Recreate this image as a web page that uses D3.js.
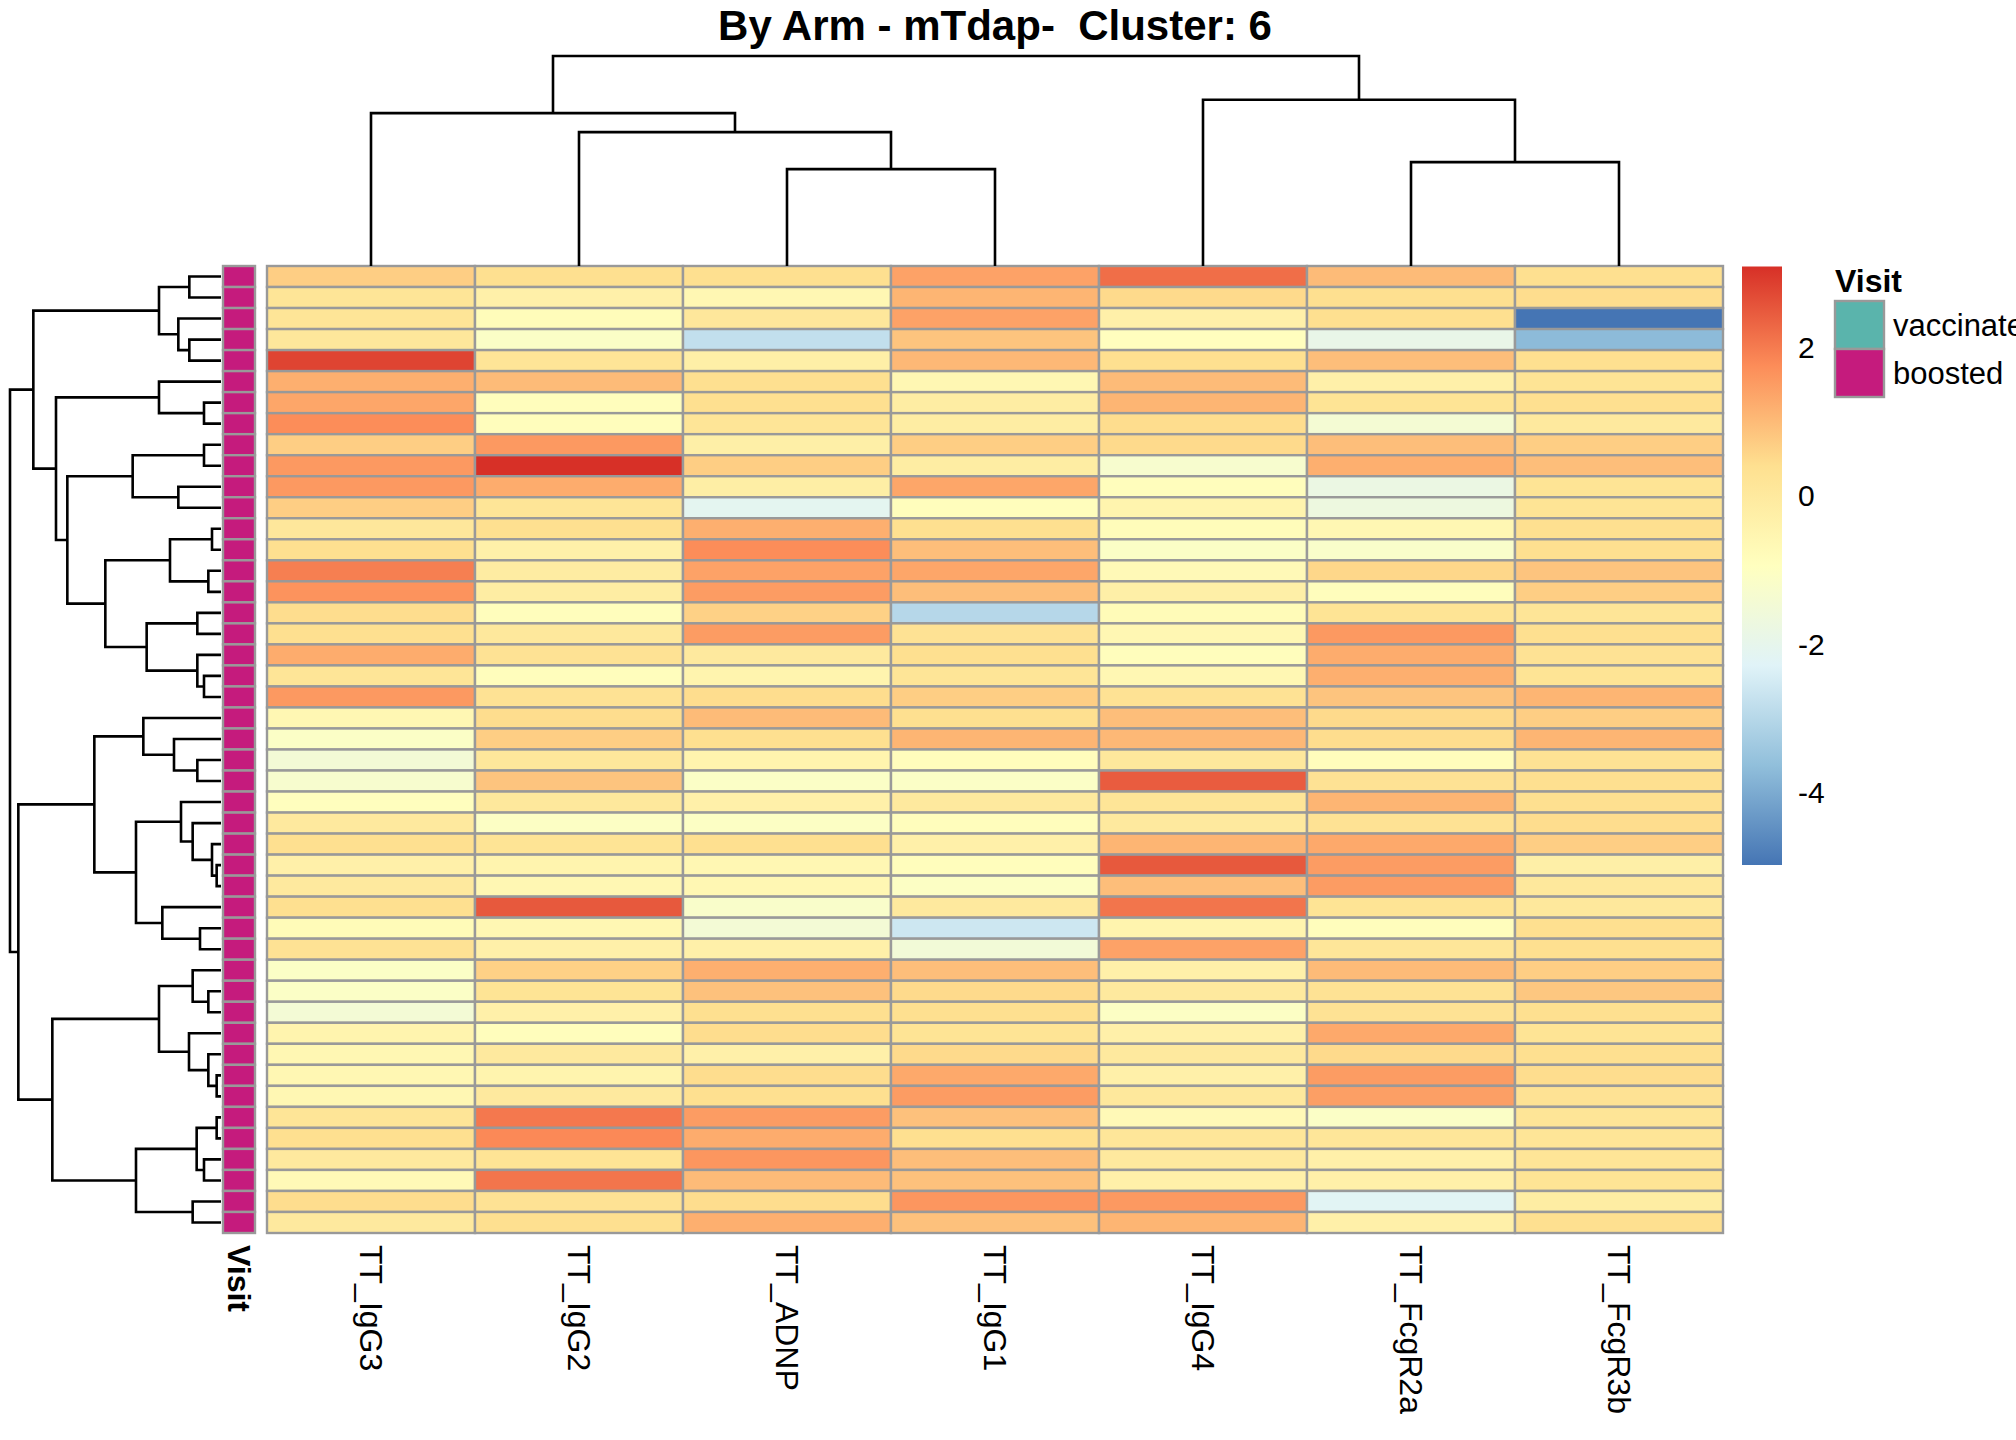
<!DOCTYPE html>
<html><head><meta charset="utf-8">
<script src="https://cdn.jsdelivr.net/npm/d3@7"></script>
<style>
body{margin:0;background:#fff}
text{font-family:Arial,"Liberation Sans",sans-serif;fill:#000}
</style>
</head><body>
<svg id="chart" width="2016" height="1440"></svg>
<script>
// ---------- data ----------
const chartTitle = "By Arm - mTdap-  Cluster: 6";
const features = ["TT_IgG3","TT_IgG2","TT_ADNP","TT_IgG1","TT_IgG4","TT_FcgR2a","TT_FcgR3b"];

const igg3   = [0.7,0.2,0.2,0.1,2.8,1.2,1.35,1.75,0.7,1.55,1.55,0.7,0.1,0.4,1.95,1.65,0.45,0.4,1.25,0.2,1.55,-0.6,-1.1,-1.45,-1.3,-0.9,0.0,0.4,-0.3,0.0,0.4,-0.75,0.3,-1.1,-1.1,-1.45,-0.45,-0.6,-0.6,-0.6,0.2,0.4,0.0,-0.7,0.45,0.0];
const igg2   = [0.4,-0.3,-0.8,-1.1,0.2,1.0,-0.85,-0.85,1.55,3.09,1.25,0.2,0.4,-0.3,-0.1,-0.15,-0.85,0.05,0.3,-0.85,0.3,0.45,0.7,0.1,0.85,0.05,-1.05,0.25,-0.45,-0.6,2.5,-0.6,-0.3,0.65,0.25,-0.3,-0.85,0.0,-0.45,0.0,2.05,1.8,0.25,2.1,0.3,0.4];
const adnp   = [0.4,-0.6,0.1,-2.8,-0.25,0.4,0.4,0.2,-0.25,0.7,-0.2,-2.1,1.2,1.75,1.4,1.5,0.65,1.5,0.0,-0.45,0.45,1.0,0.4,-0.45,-1.1,-0.3,-1.05,0.4,-0.6,-0.6,-1.2,-1.45,-0.3,1.2,0.9,0.4,0.45,-0.3,0.45,0.4,1.5,1.25,1.6,1.0,0.45,1.2];
const igg1   = [1.4,1.1,1.4,0.85,1.05,-0.6,-0.15,-0.15,0.7,-0.15,1.35,-0.85,0.4,0.95,1.35,0.95,-3.0,0.3,0.4,0.2,0.7,0.4,1.1,-0.85,-1.1,0.0,-0.85,-0.3,-0.85,-1.05,0.0,-2.6,-1.5,0.95,0.5,0.4,0.25,0.5,1.3,1.5,0.9,0.4,0.95,0.9,1.6,0.9];
const igg4   = [2.2,0.5,-0.3,-0.9,0.4,1.0,1.1,0.45,0.5,-1.3,-0.85,-0.45,-0.8,-1.1,-0.7,-0.25,-0.75,-0.6,-0.85,-0.6,0.3,0.95,1.05,0.05,2.45,0.2,0.0,1.1,2.5,0.95,2.1,-0.45,1.4,-0.3,0.0,-1.05,-0.3,0.0,-0.3,0.05,-0.7,0.15,0.0,-0.3,1.55,1.1];
const fcgr2a = [1.0,0.4,0.4,-1.9,0.95,-0.3,0.25,-1.4,0.95,1.2,-1.8,-1.7,-0.6,-1.2,0.55,-0.85,0.25,1.55,1.25,1.2,0.85,0.5,0.45,-0.85,0.3,1.1,0.3,1.3,1.5,1.5,0.25,-0.85,0.15,1.0,0.3,0.3,1.3,0.5,1.5,1.45,-1.1,0.15,-0.3,-0.3,-2.2,-0.3];
const fcgr3b = [0.4,0.45,-4.97,-3.7,0.4,0.25,0.4,0.0,0.7,0.95,0.25,0.25,0.4,0.4,0.85,0.7,0.2,0.4,0.3,0.25,1.1,0.7,1.1,0.3,0.4,0.4,0.45,0.7,-0.25,0.05,0.05,0.4,0.4,0.7,0.8,0.4,0.25,0.4,0.45,0.3,0.2,0.2,0.2,0.25,-0.15,0.4];

const rowVisit = ["boosted","boosted","boosted","boosted","boosted","boosted","boosted","boosted","boosted","boosted",
  "boosted","boosted","boosted","boosted","boosted","boosted","boosted","boosted","boosted","boosted",
  "boosted","boosted","boosted","boosted","boosted","boosted","boosted","boosted","boosted","boosted",
  "boosted","boosted","boosted","boosted","boosted","boosted","boosted","boosted","boosted","boosted",
  "boosted","boosted","boosted","boosted","boosted","boosted"];
const visitLevels = ["vaccinated","boosted"];
const visitColors = ["#5AB4AC","#C51B7D"];
const colorTicks = [-4,-2,0,2];
const palette = ["#4575B4","#91BFDB","#E0F3F8","#FFFFBF","#FEE090","#FC8D59","#D73027"];

// hclust-style merges: negative = leaf (-(index+1)), positive = earlier merge step (1-based); third = height
const rowMerge = [
  [-1,-2,95],[-4,-5,95],[-3,2,128],[1,3,186],[-7,-8,51],[-6,5,186],[-9,-10,51],[-11,-12,128],[7,8,265],
  [-13,-14,27],[-15,-16,38],[10,11,153],[-17,-18,71],[-20,-21,51],[-19,14,71],[13,15,223],[12,16,347],
  [9,17,461],[6,18,495],[4,19,563],[-24,-25,71],[-23,21,141],[-22,22,233],[-29,-30,13],[-28,24,27],
  [-27,25,85],[-26,26,120],[-32,-33,63],[-31,28,176],[27,29,255],[23,30,380],[-35,-36,38],[-34,32,85],
  [-39,-40,13],[-38,34,38],[-37,35,96],[33,36,186],[-41,-42,13],[-43,-44,51],[38,39,73],[-45,-46,85],
  [40,41,255],[37,42,506],[31,43,608],[20,44,633]
];
const colMerge = [[-3,-4,96.7],[-2,1,133.7],[-1,2,152.7],[-6,-7,103.7],[-5,4,166],[3,5,209.7]];

// ---------- drawing ----------
const svg = d3.select("#chart");
svg.append("rect").attr("width",2016).attr("height",1440).attr("fill","#fff");

const series = [igg3, igg2, adnp, igg1, igg4, fcgr2a, fcgr3b];
const nRows = igg3.length;
const x = d3.scaleBand().domain(features).range([267, 1723]);
const y = d3.scaleBand().domain(d3.range(nRows)).range([266, 1233]);
const [vmin, vmax] = d3.extent(series.flat());
const color = d3.scaleLinear()
  .domain(palette.map((_, i) => vmin + (vmax - vmin) * i / (palette.length - 1)))
  .range(palette).interpolate(d3.interpolateRgb);

const borderCol = "#999999", borderW = 2.4;

// heatmap cells
const cells = [];
features.forEach((f, fi) => series[fi].forEach((v, ri) => cells.push({f, ri, v})));
svg.append("g").selectAll("rect").data(cells).join("rect")
  .attr("x", d => x(d.f)).attr("y", d => y(d.ri))
  .attr("width", x.bandwidth()).attr("height", y.bandwidth())
  .attr("fill", d => color(d.v))
  .attr("stroke", borderCol).attr("stroke-width", borderW);

// annotation column
const xa = d3.scaleBand().domain(["Visit"]).range([223, 255]);
const visitColor = d3.scaleOrdinal().domain(visitLevels).range(visitColors);
svg.append("g").selectAll("rect").data(rowVisit).join("rect")
  .attr("x", xa("Visit")).attr("y", (d, i) => y(i))
  .attr("width", xa.bandwidth()).attr("height", y.bandwidth())
  .attr("fill", d => visitColor(d))
  .attr("stroke", borderCol).attr("stroke-width", borderW);

// dendrogram helper
function dendroPaths(merge, leafPos) {
  const nodes = [];
  const get = k => k < 0 ? {p: leafPos(-k - 1), h: 0} : nodes[k - 1];
  const segs = [];
  merge.forEach(([a, b, h]) => {
    const A = get(a), B = get(b);
    segs.push({a: A, b: B, h});
    nodes.push({p: (A.p + B.p) / 2, h});
  });
  return segs;
}

// row dendrogram
const rowH = d3.scaleLinear().domain([0, d3.max(rowMerge, d => d[2])]).range([221, 10]);
const rowSegs = dendroPaths(rowMerge, i => y(i) + y.bandwidth() / 2);
svg.append("g").selectAll("path").data(rowSegs).join("path")
  .attr("d", s => `M${rowH(s.a.h)},${s.a.p}H${rowH(s.h)}V${s.b.p}H${rowH(s.b.h)}`)
  .attr("fill", "none").attr("stroke", "#000").attr("stroke-width", 2.6);

// column dendrogram
const colH = d3.scaleLinear().domain([0, d3.max(colMerge, d => d[2])]).range([266, 56]);
const colSegs = dendroPaths(colMerge, i => x(features[i]) + x.bandwidth() / 2);
svg.append("g").selectAll("path").data(colSegs).join("path")
  .attr("d", s => `M${s.a.p},${colH(s.a.h)}V${colH(s.h)}H${s.b.p}V${colH(s.b.h)}`)
  .attr("fill", "none").attr("stroke", "#000").attr("stroke-width", 2.6);

// column labels
svg.append("g").selectAll("text").data(features).join("text")
  .attr("transform", d => `translate(${x(d) + x.bandwidth() / 2},1245) rotate(90)`)
  .attr("dy", "0.35em").attr("font-size", 32).text(d => d);

// annotation label
svg.append("text")
  .attr("transform", `translate(${xa("Visit") + xa.bandwidth() / 2},1245) rotate(90)`)
  .attr("dy", "0.35em").attr("font-size", 32).attr("font-weight", "bold").text("Visit");

// title
svg.append("text").attr("x", (x.range()[0] + x.range()[1]) / 2).attr("y", 40)
  .attr("text-anchor", "middle").attr("font-size", 42).attr("font-weight", "bold")
  .style("white-space", "pre").attr("xml:space", "preserve").text(chartTitle);

// colour bar
const cb = d3.scaleLinear().domain([vmin, vmax]).range([865, 266.5]);
const defs = svg.append("defs");
const grad = defs.append("linearGradient").attr("id", "cbgrad")
  .attr("x1", 0).attr("y1", 1).attr("x2", 0).attr("y2", 0);
grad.selectAll("stop").data(palette).join("stop")
  .attr("offset", (d, i) => i / (palette.length - 1)).attr("stop-color", d => d);
svg.append("rect").attr("x", 1742).attr("y", cb(vmax)).attr("width", 40)
  .attr("height", cb(vmin) - cb(vmax)).attr("fill", "url(#cbgrad)");
svg.append("g").selectAll("text").data(colorTicks).join("text")
  .attr("x", 1798).attr("y", d => cb(d)).attr("dy", "0.35em")
  .attr("font-size", 30).text(d => d);

// Visit legend
const lg = svg.append("g");
lg.append("text").attr("x", 1835).attr("y", 292).attr("font-size", 32)
  .attr("font-weight", "bold").text("Visit");
const ly = d3.scaleBand().domain(visitLevels).range([301, 397]);
lg.selectAll("rect").data(visitLevels).join("rect")
  .attr("x", 1835).attr("y", d => ly(d)).attr("width", 49).attr("height", ly.bandwidth())
  .attr("fill", d => visitColor(d)).attr("stroke", borderCol).attr("stroke-width", borderW);
lg.selectAll("text.lab").data(visitLevels).join("text").attr("class", "lab")
  .attr("x", 1893).attr("y", d => ly(d) + ly.bandwidth() / 2).attr("dy", "0.35em")
  .attr("font-size", 31).text(d => d);
</script>
</body></html>
